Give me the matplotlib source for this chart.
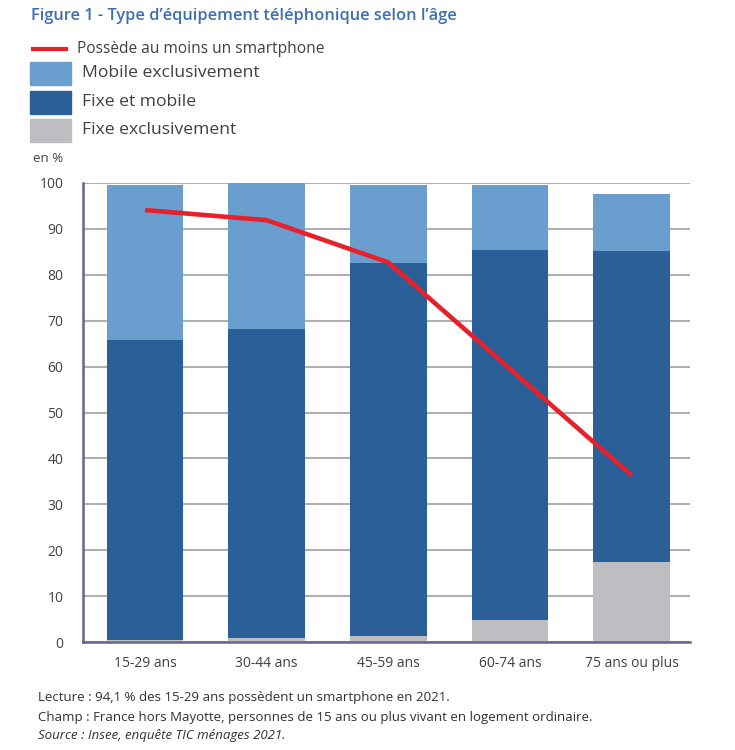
import matplotlib
matplotlib.use("Agg")
import matplotlib.pyplot as plt
from matplotlib.patches import Rectangle
from matplotlib.lines import Line2D
import numpy as np

plt.rcParams['font.family'] = ['Open Sans', 'DejaVu Sans']

categories = ["15-29 ans", "30-44 ans", "45-59 ans", "60-74 ans", "75 ans ou plus"]
fixe_excl = [0.5, 0.9, 1.2, 4.7, 17.4]
fixe_mobile = [65.2, 67.4, 81.3, 80.6, 67.7]
mobile_excl = [33.8, 31.6, 17.0, 14.2, 12.4]
smartphone = [94.1, 91.9, 82.7, 59.5, 36.3]
yticks = [0, 10, 20, 30, 40, 50, 60, 70, 80, 90, 100]

c_light = "#6a9ecf"
c_dark = "#2a5f98"
c_gray = "#bdbec2"
c_red = "#e8202a"
c_title = "#3d6fb6"
c_text = "#404040"

W, H = 735, 750
fig = plt.figure(figsize=(W / 100, H / 100), dpi=100)
ax = fig.add_axes([83 / W, 1 - 642 / H, (690 - 83) / W, (642 - 183) / H])

x = np.arange(len(categories))
bw = 0.63
b1 = np.array(fixe_excl)
b2 = b1 + np.array(fixe_mobile)
ax.bar(x, fixe_excl, bw, color=c_gray, zorder=2)
ax.bar(x, fixe_mobile, bw, bottom=b1, color=c_dark, zorder=2)
ax.bar(x, mobile_excl, bw, bottom=b2, color=c_light, zorder=2)
ax.plot(x, smartphone, color=c_red, lw=3.3, zorder=3, solid_capstyle='butt')

ax.set_xlim(-0.51, 4.48)
ax.set_ylim(0, 100)
ax.set_yticks(yticks)
ax.set_xticks(x)
ax.set_xticklabels(categories)
ax.tick_params(axis='both', length=0, labelsize=10, labelcolor=c_text)
ax.tick_params(axis='x', pad=10)
ax.tick_params(axis='y', pad=14)
ax.grid(axis='y', color='#b0b0b0', lw=1.5, zorder=0)
ax.set_axisbelow(True)
for s in ['top', 'right']:
    ax.spines[s].set_visible(False)
for s in ['left', 'bottom']:
    ax.spines[s].set_color('#66648f')
    ax.spines[s].set_linewidth(1.8)

def fx(px):
    return px / W

def fy(py):
    return 1 - py / H

fig.text(fx(31), fy(16), "Figure 1 - Type d\u2019\u00e9quipement t\u00e9l\u00e9phonique selon l\u2019\u00e2ge",
         color=c_title, fontsize=11.8, fontweight='semibold', va='center', ha='left')

fig.add_artist(Line2D([fx(33), fx(66)], [fy(49), fy(49)], color=c_red, lw=3, transform=fig.transFigure))
fig.text(fx(77), fy(49), "Poss\u00e8de au moins un smartphone", fontsize=11.2, color=c_text, va='center')
for yc, col, lab in [(73, c_light, "Mobile exclusivement"), (102, c_dark, "Fixe et mobile"),
                     (130, c_gray, "Fixe exclusivement")]:
    fig.add_artist(Rectangle((fx(30), fy(yc + 11.5)), 41 / W, 23 / H, color=col, transform=fig.transFigure))
    fig.text(fx(82), fy(yc), lab, fontsize=12.6, color=c_text, va='center')

fig.text(fx(33), fy(158), "en %", fontsize=9.5, color=c_text, va='center')

fig.text(fx(38), fy(698), "Lecture : 94,1 % des 15-29 ans poss\u00e8dent un smartphone en 2021.",
         fontsize=9.5, color='#303030', va='center')
fig.text(fx(38), fy(717), "Champ : France hors Mayotte, personnes de 15 ans ou plus vivant en logement ordinaire.",
         fontsize=9.5, color='#303030', va='center')
fig.text(fx(38), fy(736), "Source : Insee, enqu\u00eate TIC m\u00e9nages 2021.",
         fontsize=9.5, color='#303030', va='center', style='italic')

fig.savefig("out.png", dpi=100, facecolor='white')
